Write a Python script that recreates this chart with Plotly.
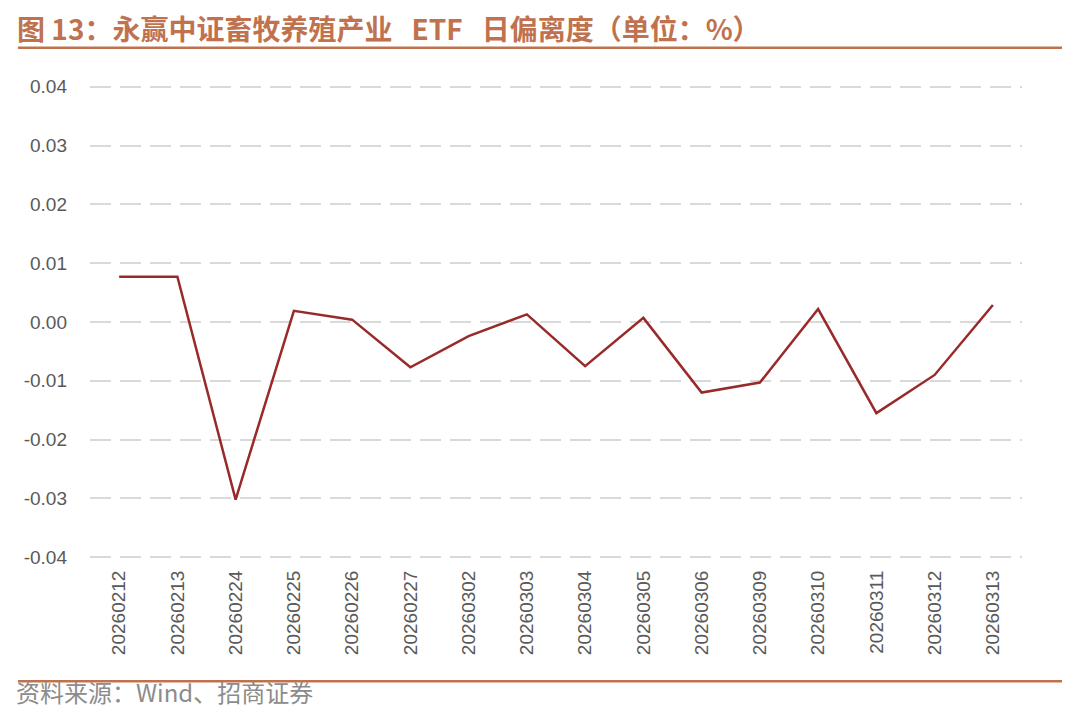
import plotly.graph_objects as go

dates = ["20260212", "20260213", "20260224", "20260225", "20260226", "20260227",
         "20260302", "20260303", "20260304", "20260305", "20260306", "20260309",
         "20260310", "20260311", "20260312", "20260313"]
deviation = [0.0077, 0.0077, -0.0302, 0.0019, 0.0004, -0.0077,
             -0.0024, 0.0013, -0.0075, 0.0007, -0.0120, -0.0103,
             0.0022, -0.0155, -0.0090, 0.0029]
y_ticks = [0.04, 0.03, 0.02, 0.01, 0.0, -0.01, -0.02, -0.03, -0.04]
y_tick_text = ["0.04", "0.03", "0.02", "0.01", "0.00", "-0.01", "-0.02", "-0.03", "-0.04"]

title_text = ("<b>图 13：永赢中证畜牧养殖产业&nbsp;&nbsp;&nbsp;ETF&nbsp;&nbsp;&nbsp;"
              "日偏离度（单位：%）</b>")
source_text = "资料来源：Wind、招商证券"

# page body has an 8px margin; work in figure coordinates (reference - 8)
OFF = 8
W, H = 1080 - 2 * OFF, 720 - 2 * OFF
PAD = 0.0003  # small range padding so the top/bottom gridlines are drawn
per = (557 - 87) / 0.08
L, R = 90 - OFF, 1022 - OFF
T, B = 87 - PAD * per - OFF, 557 + PAD * per - OFF


def px(xr):
    return (xr - OFF - L) / (R - L)


def py(yr):
    return (B - (yr - OFF)) / (B - T)


fig = go.Figure()
fig.add_trace(go.Scatter(
    x=dates, y=deviation, mode="lines",
    line=dict(color="#982A2A", width=2.5),
    hoverinfo="x+y", showlegend=False,
))

fig.update_layout(
    width=W, height=H,
    margin=dict(l=L, r=W - R, t=T, b=H - B, pad=0),
    paper_bgcolor="white", plot_bgcolor="white",
    font=dict(family="Liberation Sans, Arial, sans-serif", color="#595959", size=19),
    xaxis=dict(
        type="category", range=[-0.5, len(dates) - 0.5], tickangle=-90,
        showgrid=False, zeroline=False, showline=False,
        ticks="outside", ticklen=3, tickcolor="rgba(0,0,0,0)",
        tickfont=dict(size=19, color="#595959"),
    ),
    yaxis=dict(
        range=[-0.04 - PAD, 0.04 + PAD], tickvals=y_ticks, ticktext=y_tick_text,
        showgrid=True, gridcolor="#D9D9D9", gridwidth=2, griddash="21px,9px",
        zeroline=False, showline=False, ticks="", ticklabelstandoff=22,
        tickfont=dict(size=19, color="#595959"),
    ),
    shapes=[
        dict(type="line", xref="paper", yref="paper",
             x0=px(18), x1=px(1062), y0=py(48), y1=py(48),
             line=dict(color="#C0724F", width=2.5)),
        dict(type="line", xref="paper", yref="paper",
             x0=px(18), x1=px(1062), y0=py(681), y1=py(681),
             line=dict(color="#C0724F", width=2.5)),
    ],
    annotations=[
        dict(text=title_text, xref="paper", yref="paper",
             x=px(15), y=py(28), xanchor="left", yanchor="middle", showarrow=False,
             font=dict(family="Noto Sans CJK SC", size=28, color="#C0724F")),
        dict(text=source_text, xref="paper", yref="paper",
             x=px(14), y=0, yshift=-(H - B) + 1, xanchor="left", yanchor="bottom",
             showarrow=False,
             font=dict(family="Noto Sans CJK SC", size=24, color="#8C8C8C")),
    ],
)

fig.write_html("out.html")
